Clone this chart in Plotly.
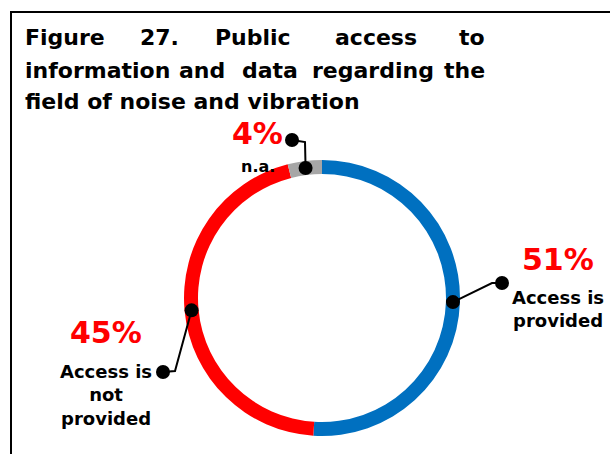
import math
import plotly.graph_objects as go

# ---- data ----
labels = ["Access is provided", "Access is not provided", "n.a."]
values = [51, 45, 4]
pct_text = ["51%", "45%", "4%"]
label_text = ["Access is<br>provided", "Access is<br>not<br>provided", "n.a."]
colors = ["#0070C0", "#FF0000", "#A6A6A6"]

title_line1 = ["Figure", "27.", "Public", "access", "to"]
title_line2 = ["information", "and", "data", "regarding", "the"]
title_line3 = "field of noise and vibration"

W, H = 610, 454
cx, cy, R, thick = 322, 298, 138, 14
rmid = R - thick / 2

FONT = "DejaVu Sans"

fig = go.Figure()
fig.add_trace(go.Pie(
    labels=labels, values=values, sort=False, direction="clockwise", rotation=0,
    hole=(R - thick) / R, marker=dict(colors=colors, line=dict(width=0)),
    textinfo="none", hoverinfo="label+percent", showlegend=False,
    domain=dict(x=[(cx - R) / W, (cx + R) / W], y=[1 - (cy + R) / H, 1 - (cy - R) / H]),
))
# invisible helper trace so the cartesian axes exist
fig.add_trace(go.Scatter(x=[0], y=[0], mode="markers", marker=dict(opacity=0),
                         showlegend=False, hoverinfo="skip"))

shapes = []
annotations = []

# ring anchor points computed from the data
total = sum(values)
cum = 0
anchors = []
for v in values:
    mid = (cum + v / 2) / total * 2 * math.pi
    anchors.append((cx + rmid * math.sin(mid), cy - rmid * math.cos(mid)))
    cum += v

# leader layout (elbow, end) per slice
leaders = [((492, 283), (502, 283)), ((175, 371), (163, 372)), ((305, 142), (292, 140))]
dot_r = 7
for (ax_, ay_), (el, en) in zip(anchors, leaders):
    shapes.append(dict(type="path", xref="x", yref="y",
                       path=f"M{ax_},{ay_} L{el[0]},{el[1]} L{en[0]},{en[1]}",
                       line=dict(color="black", width=2)))
    for (px, py) in [(ax_, ay_), en]:
        shapes.append(dict(type="circle", xref="x", yref="y",
                           x0=px - dot_r, x1=px + dot_r, y0=py - dot_r, y1=py + dot_r,
                           fillcolor="black", line=dict(width=0)))

# frame
shapes.append(dict(type="rect", xref="x", yref="y", x0=11, x1=W + 20, y0=12, y1=H + 20,
                   line=dict(color="black", width=2), fillcolor="rgba(0,0,0,0)"))

# title (justified)
TS = 22
t1_pos = [(23, "left"), (138, "left"), (213, "left"), (333, "left"), (487, "right")]
for w, (x, anc) in zip(title_line1, t1_pos):
    annotations.append(dict(x=x, y=37, text=f"<b>{w}</b>", xanchor=anc, yanchor="middle"))
t2_pos = [(23, "left"), (177, "left"), (240, "left"), (310, "left"), (487, "right")]
for w, (x, anc) in zip(title_line2, t2_pos):
    annotations.append(dict(x=x, y=70, text=f"<b>{w}</b>", xanchor=anc, yanchor="middle"))
annotations.append(dict(x=23, y=101, text=f"<b>{title_line3}</b>", xanchor="left", yanchor="middle"))
for a in annotations:
    a.update(xref="x", yref="y", showarrow=False, font=dict(family=FONT, size=TS, color="black"))

# slice labels
pct_pos = [(558, 259), (106, 332), (257, 133)]
lab_pos = [(558, 309, 18), (106, 395, 18), (258, 166, 16)]
for pt, lt, (px, py), (lx, ly, fs) in zip(pct_text, label_text, pct_pos, lab_pos):
    annotations.append(dict(xref="x", yref="y", x=px, y=py, text=f"<b>{pt}</b>", showarrow=False,
                            xanchor="center", yanchor="middle",
                            font=dict(family=FONT, size=30, color="#FF0000")))
    annotations.append(dict(xref="x", yref="y", x=lx, y=ly, text=f"<b>{lt}</b>", showarrow=False,
                            xanchor="center", yanchor="middle", align="center",
                            font=dict(family=FONT, size=fs, color="black")))

fig.update_layout(
    width=W, height=H, margin=dict(l=0, r=0, t=0, b=0),
    paper_bgcolor="white", plot_bgcolor="rgba(0,0,0,0)",
    xaxis=dict(range=[0, W], visible=False, domain=[0, 1], fixedrange=True),
    yaxis=dict(range=[H, 0], visible=False, domain=[0, 1], fixedrange=True),
    shapes=shapes, annotations=annotations,
)

fig.write_html("out.html", config={"displayModeBar": False},
               post_script="document.body.style.margin='0';document.body.style.overflow='hidden';")
